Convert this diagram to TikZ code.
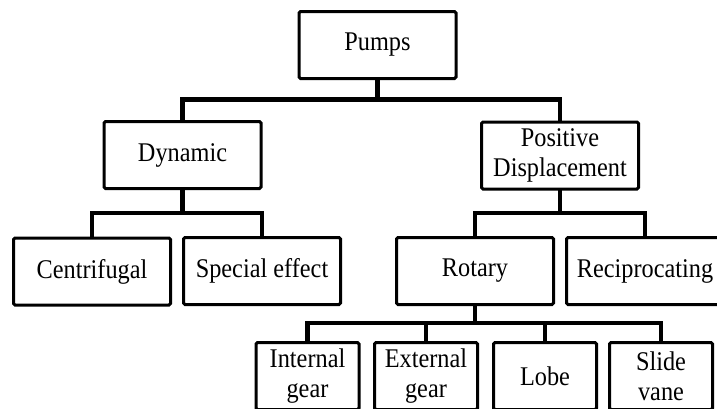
\documentclass[tikz,border=0pt]{standalone}
\usepackage{fontspec}
\setmainfont{Liberation Serif}
\newfontfamily\boxfont[FakeStretch=0.9]{Liberation Serif}
\begin{document}
\begin{tikzpicture}[x=1pt,y=-1pt,
  box/.style={draw=black, line width=3pt, rounded corners=1.5pt, fill=white,
    inner sep=0pt, minimum height=67pt, align=center,
    font=\boxfont\fontsize{27}{30}\selectfont},
  bigbox/.style={box, minimum width=157pt},
  smallbox/.style={box, minimum width=103pt},
  conn/.style={draw=black, line width=4.5pt, line join=miter, line cap=rect}]
\useasboundingbox (0,0) rectangle (717,408);
\clip (0,0) rectangle (717,408);
\fill[white] (0,0) rectangle (717,408);
% coordinates of the horizontal bars
\coordinate (b1) at (0,99.5);
\coordinate (b2) at (0,213);
\coordinate (b3) at (0,323);
\node[bigbox] (pumps) at (377.5,45) {Pumps};
\node[bigbox] (dyn) at (182.5,155) {Dynamic};
\node[bigbox] (pd) at (560,155.5) {Positive\\Displacement};
\node[bigbox] (cen) at (92,271.5) {Centrifugal};
\node[bigbox] (spe) at (262,271) {Special effect};
\node[bigbox] (rot) at (475,271) {Rotary};
\node[bigbox] (rec) at (645,271) {Reciprocating};
\node[smallbox] (ig) at (307.5,376) {Internal\\gear};
\node[smallbox] (eg) at (426,376) {External\\gear};
\node[smallbox] (lob) at (545,376) {Lobe};
\node[smallbox] (sv) at (661,376) {Slide\\vane};
% connectors
\path[conn] (pumps.south) -- (pumps.south |- b1);
\path[conn] (dyn.north) -- (dyn.north |- b1) -- (pd.north |- b1) -- (pd.north);
\path[conn] (dyn.south) -- (dyn.south |- b2);
\path[conn] (cen.north) -- (cen.north |- b2) -- (spe.north |- b2) -- (spe.north);
\path[conn] (pd.south) -- (pd.south |- b2);
\path[conn] (rot.north) -- (rot.north |- b2) -- (rec.north |- b2) -- (rec.north);
\path[conn] (rot.south) -- (rot.south |- b3);
\path[conn] (ig.north) -- (ig.north |- b3) -- (sv.north |- b3) -- (sv.north);
\path[conn] (eg.north) -- (eg.north |- b3);
\path[conn] (lob.north) -- (lob.north |- b3);
\end{tikzpicture}
\end{document}
